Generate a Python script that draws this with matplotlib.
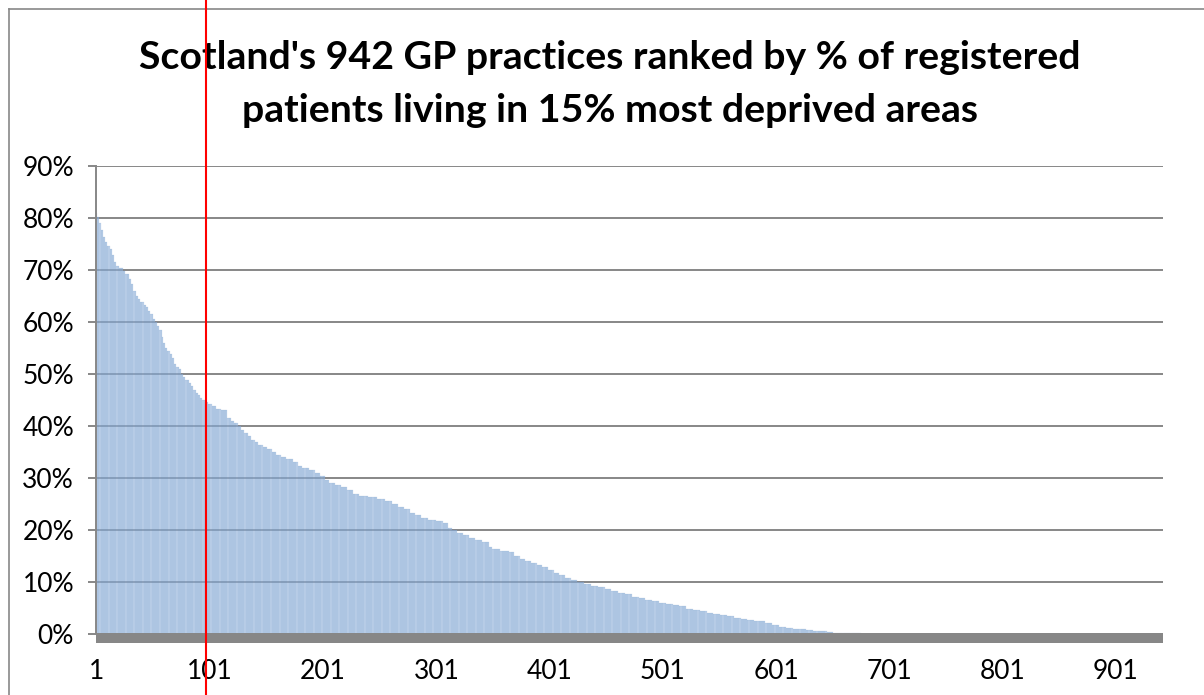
import matplotlib.pyplot as plt
import matplotlib.transforms as mtransforms
from matplotlib.lines import Line2D
from matplotlib.ticker import FuncFormatter
import numpy as np

# Valores: cada degrau começa numa posição do ranking
# e mantém a percentagem até ao início do degrau seguinte
n_practices = 942
step_start = [1, 2, 4, 5, 7, 9, 11, 13, 15, 17, 19, 21, 25, 27, 30, 32, 34, 36, 38, 40,
              43, 45, 47, 49, 51, 53, 55, 57, 59, 60, 62, 64, 66, 68, 70, 72, 74, 76, 78, 80,
              83, 85, 87, 89, 91, 93, 95, 97, 100, 103, 107, 111, 117, 120, 123, 126, 129, 132, 135, 138,
              141, 144, 148, 152, 156, 160, 164, 169, 175, 179, 183, 189, 194, 199, 203, 207, 212, 217, 223, 228,
              233, 241, 249, 256, 262, 268, 273, 278, 283, 288, 294, 301, 307, 312, 315, 320, 325, 330, 336, 342,
              348, 351, 358, 366, 370, 375, 380, 385, 390, 395, 400, 405, 410, 415, 420, 426, 432, 438, 444, 450,
              456, 462, 468, 474, 480, 486, 492, 498, 504, 510, 516, 522, 528, 534, 540, 546, 552, 558, 564, 570,
              576, 582, 592, 598, 604, 610, 616, 622, 628, 634, 640, 646, 652, 658, 666, 676, 691]
step_pct = [81.0, 80.2, 79.0, 77.6, 76.4, 75.4, 74.6, 74.0, 72.9, 71.6, 70.8, 70.4, 69.8, 69.2, 68.2, 67.3, 66.0, 65.0, 64.4, 63.9,
            63.3, 62.8, 62.2, 61.5, 60.6, 60.0, 59.3, 58.5, 57.2, 56.0, 55.0, 54.4, 53.8, 53.0, 52.0, 51.3, 51.0, 50.0, 49.4, 48.9,
            48.2, 47.6, 47.0, 46.4, 45.9, 45.4, 45.0, 44.6, 44.2, 43.8, 43.3, 43.0, 41.6, 41.0, 40.6, 40.0, 39.2, 38.6, 38.0, 37.4,
            37.0, 36.4, 36.0, 35.5, 35.0, 34.4, 34.0, 33.6, 33.0, 32.4, 32.0, 31.6, 31.0, 30.4, 29.6, 29.0, 28.6, 28.2, 27.6, 27.0,
            26.6, 26.4, 26.0, 25.5, 25.0, 24.5, 24.0, 23.3, 22.8, 22.3, 22.0, 21.8, 21.4, 20.4, 20.0, 19.5, 19.0, 18.4, 18.0, 17.7,
            16.8, 16.3, 16.0, 15.7, 15.0, 14.5, 14.0, 13.6, 13.2, 12.9, 12.4, 11.8, 11.3, 10.8, 10.4, 10.0, 9.6, 9.3, 9.0, 8.7,
            8.3, 7.9, 7.6, 7.2, 6.9, 6.6, 6.3, 6.0, 5.8, 5.6, 5.3, 4.9, 4.6, 4.4, 4.1, 3.9, 3.6, 3.4, 3.1, 2.9,
            2.7, 2.5, 2.1, 1.7, 1.4, 1.2, 1.0, 0.9, 0.7, 0.6, 0.5, 0.35, 0.25, 0.15, 0.1, 0.05, 0.0]
xtick_ranks = [1, 101, 201, 301, 401, 501, 601, 701, 801, 901]
ytick_vals = [0.0, 0.1, 0.2, 0.3, 0.4, 0.5, 0.6, 0.7, 0.8, 0.9]
divider_x = 97.6  # linha vermelha desenhada à mão no original

title = "Scotland's 942 GP practices ranked by % of registered\npatients living in 15% most deprived areas"

# Expande os degraus para um valor por consultório
counts = np.diff(step_start + [n_practices + 1])
pct = np.repeat(np.array(step_pct) / 100, counts)
ranks = np.arange(1, n_practices + 1)

plt.rcParams['font.family'] = ['Lato', 'DejaVu Sans']
grid_gray = '#878787'

fig = plt.figure(figsize=(12.04, 6.95), dpi=100)
ax = fig.add_axes([96/1204, 61/695, 1067/1204, 468/695])

ax.bar(ranks, pct, width=1.0, color='#96b6dc', alpha=0.6, edgecolor='#4f81bd',
       linewidth=0.1, zorder=2)

ax.set_xlim(0.5, n_practices + 0.5)
ax.set_ylim(0, 0.9)
ax.set_yticks(ytick_vals)
ax.yaxis.set_major_formatter(FuncFormatter(lambda v, p: '{:.0f}%'.format(v*100)))
ax.set_xticks(xtick_ranks)
ax.set_xticklabels([str(r) for r in xtick_ranks])

ax.yaxis.grid(True, color=grid_gray, linewidth=1.4, zorder=1)
ax.set_axisbelow(True)
ax.tick_params(axis='y', direction='out', length=5.8, width=1.4, color=grid_gray,
               labelsize=19, pad=10, labelcolor='black')
ax.tick_params(axis='x', length=0, labelsize=19, pad=15, labelcolor='black')

for s in ['top', 'right']:
    ax.spines[s].set_visible(False)
ax.spines['left'].set_color(grid_gray)
ax.spines['left'].set_linewidth(1.4)
ax.spines['bottom'].set_color(grid_gray)
ax.spines['bottom'].set_linewidth(7.2)
ax.spines['bottom'].set_position(('outward', 3))
ax.spines['bottom'].set_capstyle('butt')

fig.text(610/1204, 1 - 84/695, title, ha='center', va='center', fontsize=28.3,
         fontweight='bold', linespacing=1.62)

# linha vermelha vertical em toda a altura da figura
trans = mtransforms.blended_transform_factory(ax.transData, fig.transFigure)
fig.add_artist(Line2D([divider_x, divider_x], [0, 1], transform=trans, color='red', linewidth=1.5, zorder=10))

# moldura cinzenta da área do gráfico
fig.add_artist(Line2D([8.5/1204, 8.5/1204], [0, 1 - 9/695], color=grid_gray, linewidth=1.2))
fig.add_artist(Line2D([8.5/1204, 1], [1 - 9/695, 1 - 9/695], color=grid_gray, linewidth=1.2))

fig.savefig('out.png', dpi=100)
